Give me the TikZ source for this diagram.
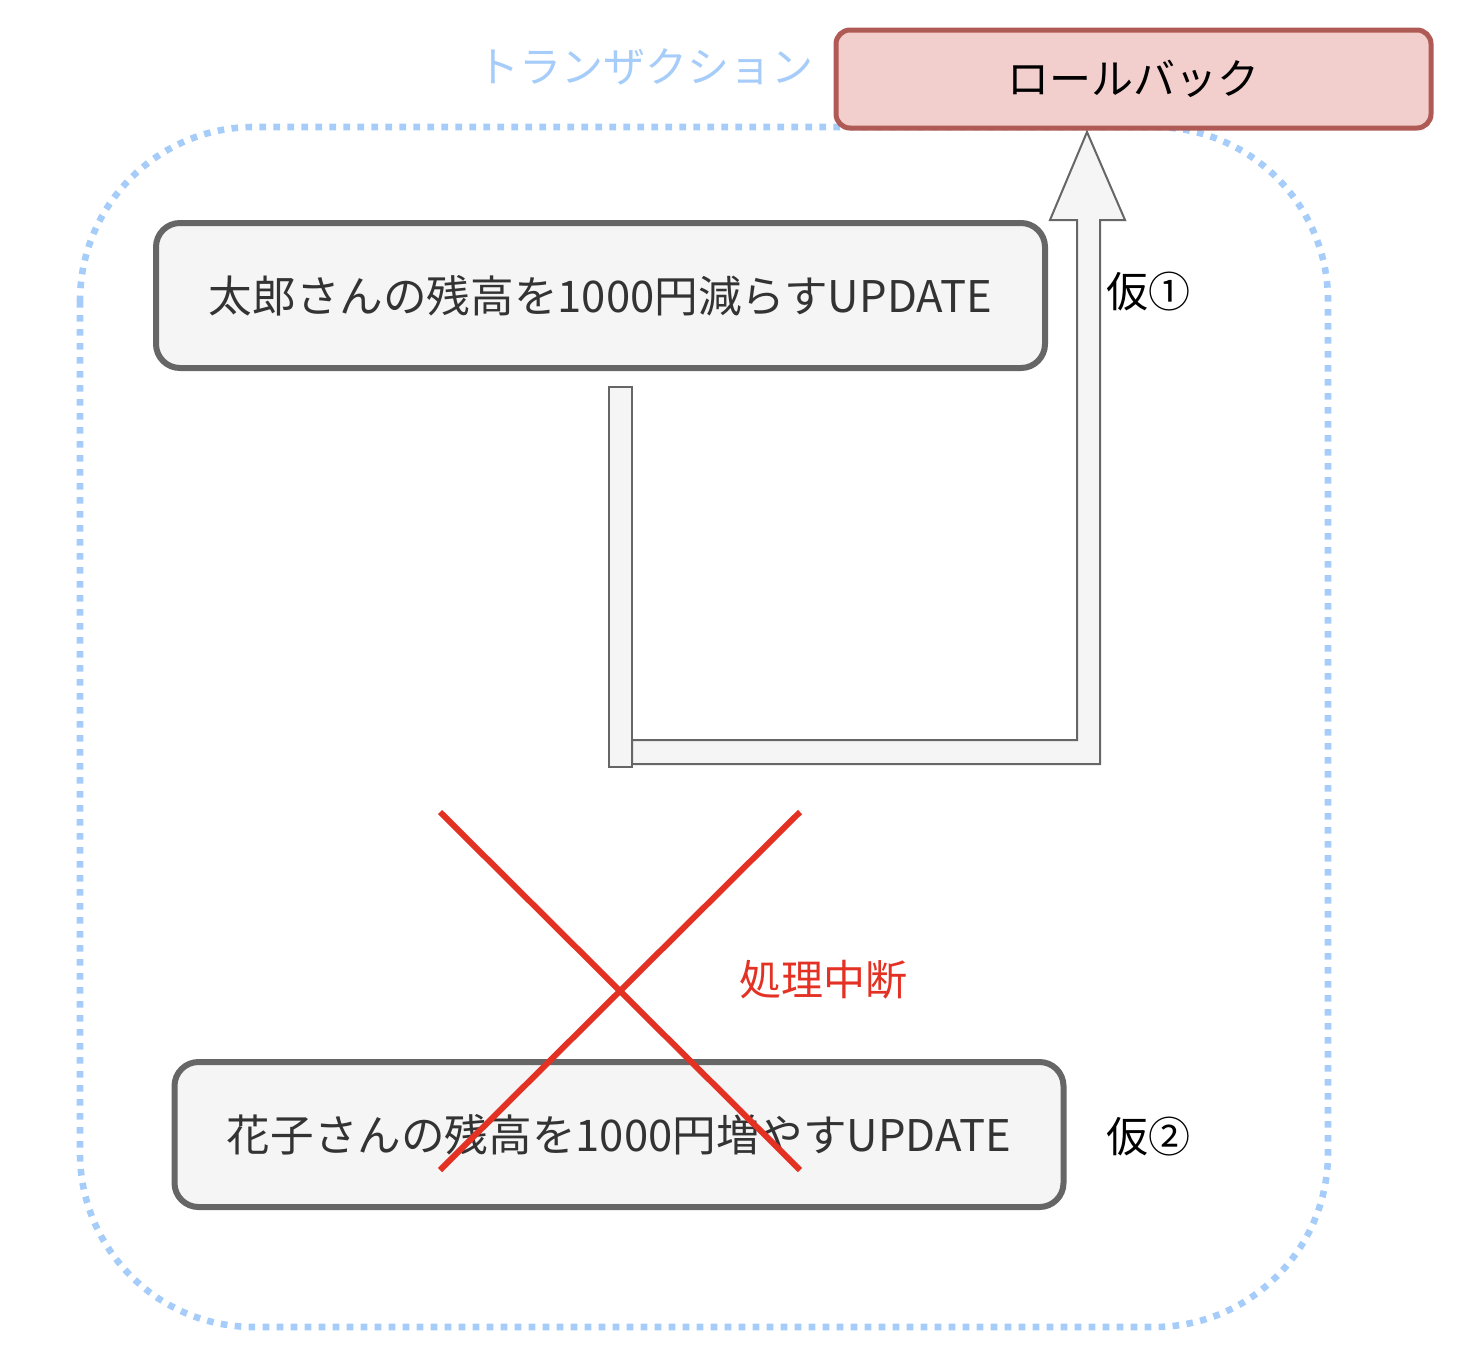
\documentclass[tikz,border=0pt]{standalone}
\usepackage{fontspec}
\setmainfont{Noto Sans CJK JP}
\definecolor{txblue}{HTML}{A6CCF9}
\definecolor{rbfill}{HTML}{F2CFCC}
\definecolor{rbdraw}{HTML}{B05A55}
\definecolor{boxfill}{HTML}{F5F5F5}
\definecolor{boxdraw}{HTML}{666666}
\definecolor{boxtext}{HTML}{333333}
\definecolor{xred}{HTML}{E33224}
\begin{document}
\begin{tikzpicture}[x=0.5pt,y=-0.5pt,
  jtext/.style={font=\fontsize{21pt}{25pt}\selectfont},
  updbox/.style={font=\fontsize{21.8pt}{26pt}\selectfont, draw=boxdraw, fill=boxfill, line width=3pt, rounded corners=12pt,
    minimum width=444.5pt, minimum height=72.5pt, text=boxtext, inner sep=0pt},
  rbbox/.style={jtext, draw=rbdraw, fill=rbfill, line width=2.5pt, rounded corners=7pt,
    minimum width=297.5pt, minimum height=49pt, text=black, inner sep=0pt},
  flexpart/.style={draw=boxdraw, fill=boxfill, line width=1pt},
  crossline/.style={draw=xred, line width=3pt},
  container/.style={draw=txblue, line width=3.3pt, dash pattern=on 3.3pt off 3.7pt, rounded corners=87pt}]
\useasboundingbox (0,0) rectangle (1472,1365);
% container
\draw[container] (80,127) rectangle (1328,1327);
\node[jtext, text=txblue] (txlabel) at (645,67) {トランザクション};
% boxes
\node[rbbox] (rollback) at (1133.5,79) {ロールバック};
\node[updbox] (taro) at (600.5,295.5) {太郎さんの残高を1000円減らすUPDATE};
\node[updbox] (hanako) at (619,1134.5) {花子さんの残高を1000円増やすUPDATE};
% arrow shapes
\draw[flexpart] (609,387) rectangle (632,767);
\draw[flexpart] (632,740) -- (1077,740) -- (1077,220) -- (1050,220) -- (1087,132)
  -- (1125,220) -- (1100,220) -- (1100,764) -- (632,764) -- cycle;
% labels
\node[jtext] (kari1) at (1148,292) {仮①};
\node[jtext] (kari2) at (1148,1137) {仮②};
\node[jtext, text=xred] (stop) at (823,980) {処理中断};
% cross
\coordinate (xa) at (440,812);
\coordinate (xb) at (800,1170);
\coordinate (xc) at (800,812);
\coordinate (xd) at (440,1170);
\draw[crossline] (xa) -- (xb);
\draw[crossline] (xc) -- (xd);
\end{tikzpicture}
\end{document}
